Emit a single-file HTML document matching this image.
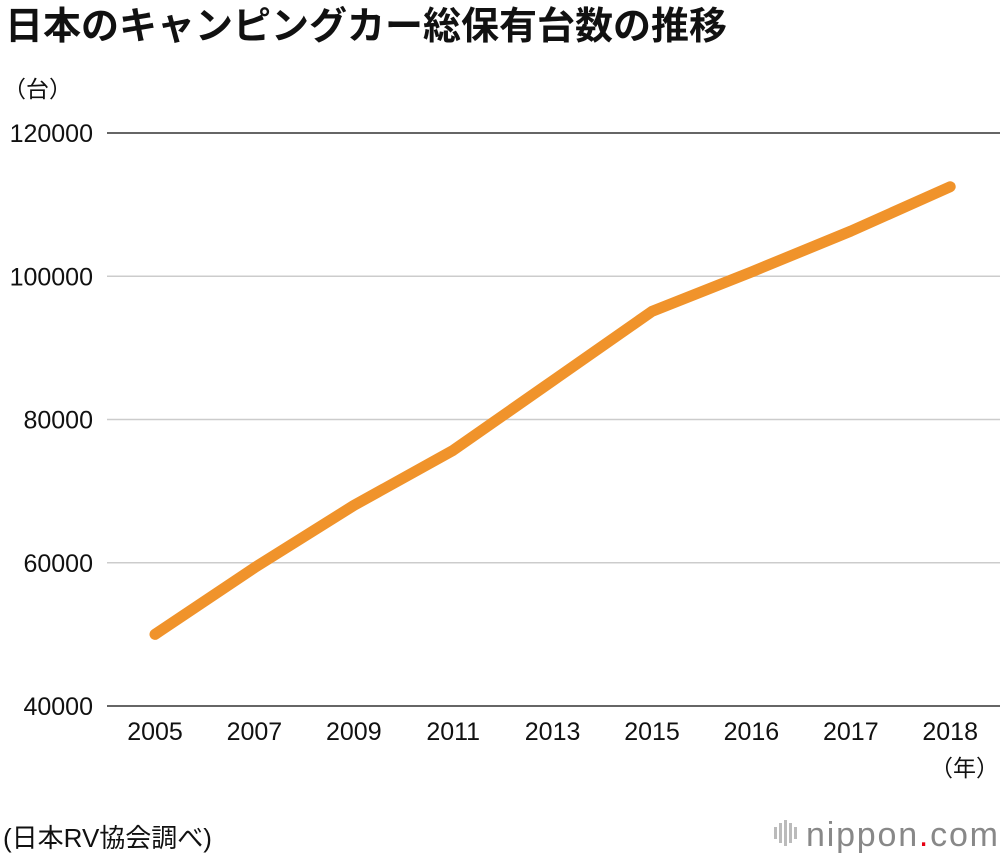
<!DOCTYPE html>
<html><head><meta charset="utf-8"><style>
body{margin:0;background:#fff;width:1000px;height:856px;overflow:hidden;font-family:"Liberation Sans","Noto Sans CJK JP",sans-serif;}
</style></head><body>
<svg width="1000" height="856" xmlns="http://www.w3.org/2000/svg">
<text x="5" y="39" font-size="38" font-weight="bold" fill="#111" font-family="Liberation Sans,Noto Sans CJK JP,sans-serif">日本のキャンピングカー総保有台数の推移</text>
<text x="3" y="97" font-size="23" fill="#111" font-family="Liberation Sans,Noto Sans CJK JP,sans-serif">（台）</text>
<g id="grid"></g><g id="yticks"></g><g id="xticks"></g>
<polyline id="line" fill="none" stroke="#f0932b" stroke-width="11" stroke-linejoin="round" stroke-linecap="round"/>
<text x="999" y="776" font-size="23" text-anchor="end" fill="#111" font-family="Liberation Sans,Noto Sans CJK JP,sans-serif">（年）</text>
<text x="3" y="847" font-size="26" fill="#111" font-family="Liberation Sans,Noto Sans CJK JP,sans-serif">(日本RV協会調べ)</text>
<g>
<rect x="774" y="827" width="3" height="12" fill="#bbb"/><rect x="779" y="823" width="3" height="20" fill="#bbb"/><rect x="784" y="820" width="3" height="26" fill="#bbb"/><rect x="789" y="823" width="3" height="20" fill="#bbb"/><rect x="794" y="827" width="3" height="12" fill="#bbb"/>
<text x="806" y="846" font-size="34" fill="#888" textLength="192" font-family="Liberation Sans,sans-serif">nippon<tspan fill="#e60012">.</tspan>com</text>
</g>
</svg>
<script>
const categories=["2005","2007","2009","2011","2013","2015","2016","2017","2018"];
const values=[50000,59300,68000,75700,85400,95100,100600,106300,112500];
const yTicks=[40000,60000,80000,100000,120000];
const NS="http://www.w3.org/2000/svg";
function y(v){return 706-(v-40000)/80000*573;}
function x(i){return 155+i*99.4;}
const grid=document.getElementById('grid'),yt=document.getElementById('yticks'),xt=document.getElementById('xticks');
yTicks.forEach(v=>{
 const l=document.createElementNS(NS,'line');
 
 
 l.setAttribute('x1',107);l.setAttribute('x2',1000);l.setAttribute('y1',y(v));l.setAttribute('y2',y(v));
 const edge=(v===40000||v===120000);
 l.setAttribute('stroke',edge?'#333':'#ccc');l.setAttribute('stroke-width',1.5);
 grid.appendChild(l);
 const t=document.createElementNS(NS,'text');
 
 
 t.setAttribute('x',93);t.setAttribute('y',y(v)+9);t.setAttribute('text-anchor','end');t.setAttribute('font-size','25');t.setAttribute('fill','#111');
 t.textContent=v;yt.appendChild(t);
});
categories.forEach((c,i)=>{
 const t=document.createElementNS(NS,'text');
 
 
 t.setAttribute('x',x(i));t.setAttribute('y',740);t.setAttribute('text-anchor','middle');t.setAttribute('font-size','25');t.setAttribute('fill','#111');
 t.textContent=c;xt.appendChild(t);
});
document.getElementById('line').setAttribute('points',values.map((v,i)=>x(i)+','+y(v)).join(' '));
</script>
</body></html>
